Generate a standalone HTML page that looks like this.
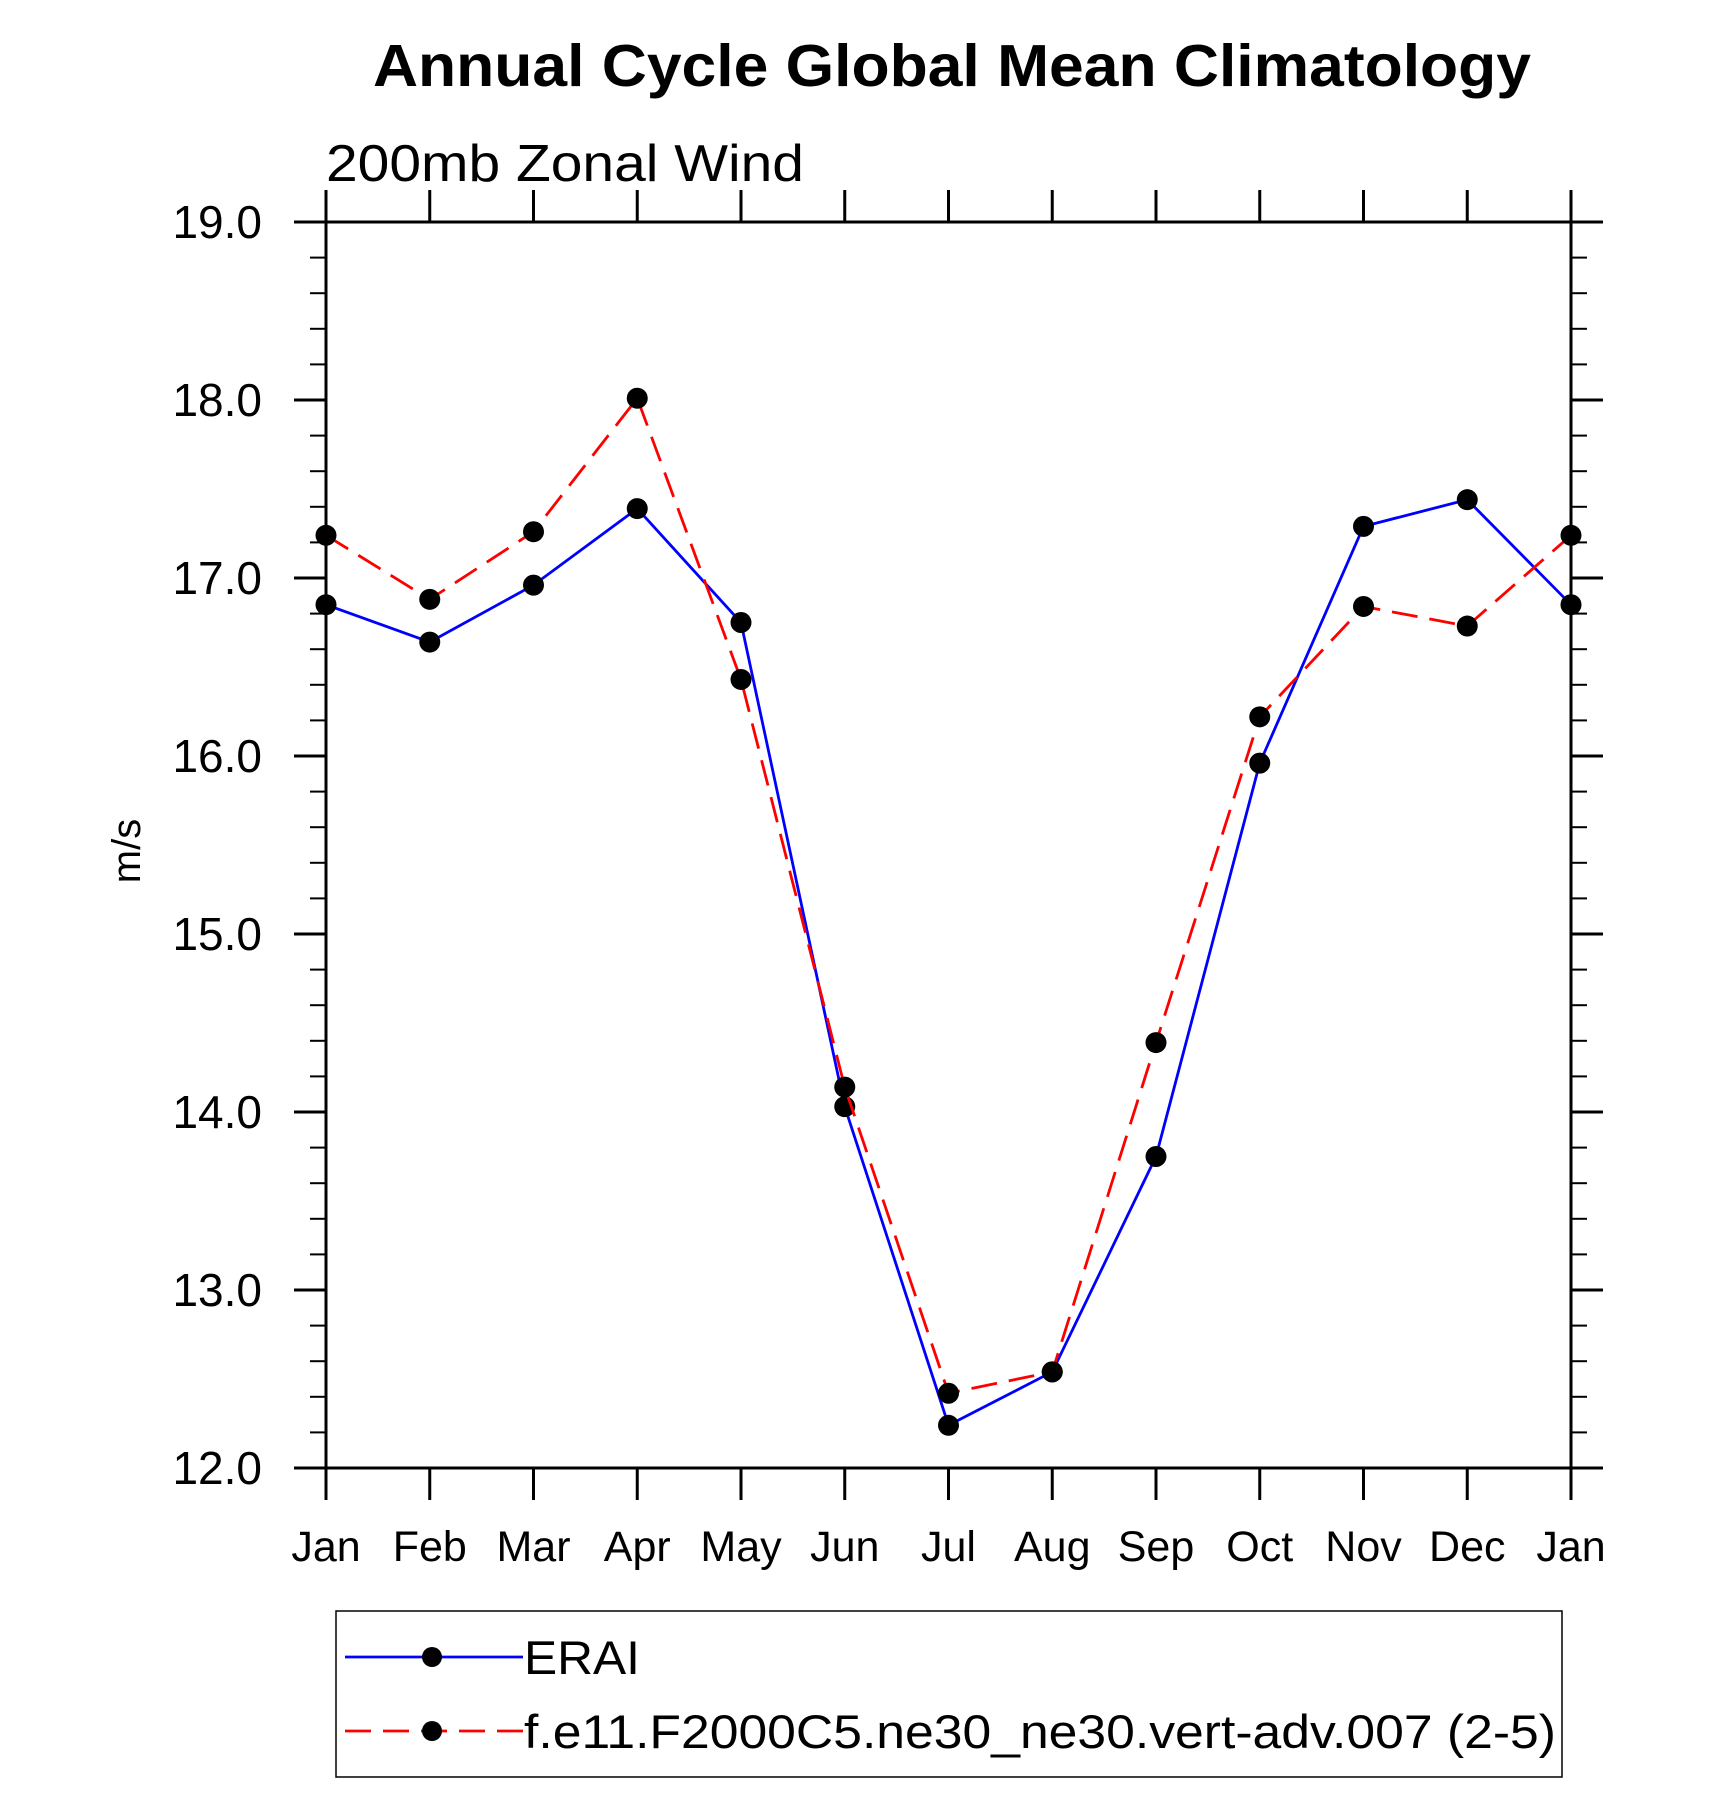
<!DOCTYPE html>
<html><head><meta charset="utf-8"><style>
html,body{margin:0;padding:0;background:#fff;}
svg{display:block;font-family:"Liberation Sans",Arial,sans-serif;}
</style></head><body>
<svg id="chart" width="1710" height="1819" viewBox="0 0 1710 1819" xmlns="http://www.w3.org/2000/svg">
<text x="952" y="86" text-anchor="middle" font-size="59" font-weight="bold" textLength="1158" lengthAdjust="spacingAndGlyphs">Annual Cycle Global Mean Climatology</text>
<text x="326" y="181" font-size="52" textLength="478" lengthAdjust="spacingAndGlyphs">200mb Zonal Wind</text>
<text transform="translate(140,851) rotate(-90)" text-anchor="middle" font-size="40">m/s</text>
<g id="axes"></g>
<g id="series"></g>
<rect x="336" y="1611" width="1226" height="166" fill="none" stroke="#000" stroke-width="1.5"/>
<g>
<line x1="345" y1="1657" x2="523" y2="1657" stroke="#0000ff" stroke-width="2.8"/>
<circle cx="432" cy="1657" r="10" fill="#000"/>
<text x="524" y="1674" font-size="47" textLength="116" lengthAdjust="spacingAndGlyphs">ERAI</text>
</g>
<g>
<line x1="345" y1="1731" x2="523" y2="1731" stroke="#ff0000" stroke-width="2.8" stroke-dasharray="26,12"/>
<circle cx="432" cy="1731" r="10" fill="#000"/>
<text x="524" y="1748" font-size="47" textLength="1032" lengthAdjust="spacingAndGlyphs">f.e11.F2000C5.ne30_ne30.vert-adv.007 (2-5)</text>
</g>
</svg>
<script>
const months = ["Jan","Feb","Mar","Apr","May","Jun","Jul","Aug","Sep","Oct","Nov","Dec","Jan"];
const yTicks = [12,13,14,15,16,17,18,19];
const yTickLabels = ["12.0","13.0","14.0","15.0","16.0","17.0","18.0","19.0"];
const eraiValues = [16.85,16.64,16.96,17.39,16.75,14.03,12.24,12.54,13.75,15.96,17.29,17.44,16.85];
const modelValues = [17.24,16.88,17.26,18.01,16.43,14.14,12.42,12.54,14.39,16.22,16.84,16.73,17.24];

const NS="http://www.w3.org/2000/svg";
const L=326,R=1571,T=222,B=1468,yMin=12,yMax=19;
function xs(i){return L+(R-L)*i/(months.length-1);}
function ys(v){return B-(B-T)*(v-yMin)/(yMax-yMin);}
function mk(tag,attrs,parent){const e=document.createElementNS(NS,tag);for(const k in attrs)e.setAttribute(k,attrs[k]);parent.appendChild(e);return e;}
const axes=document.getElementById('axes');
const series=document.getElementById('series');
const frame=mk('rect',{x:L,y:T,width:R-L,height:B-T,fill:'none',stroke:'#000','stroke-width':3},axes);


for(let v=yMin;v<=yMax+1e-9;v+=0.2){
  const y=ys(v);const major=Math.abs(v-Math.round(v))<1e-6;const len=major?32:16;
  const t1=mk('line',{x1:L-len,y1:y,x2:L,y2:y,stroke:'#000','stroke-width':major?3:2},axes);
  
  
  const t2=mk('line',{x1:R,y1:y,x2:R+len,y2:y,stroke:'#000','stroke-width':major?3:2},axes);
  
  
}
yTicks.forEach((v,i)=>{
  const t=mk('text',{x:262,y:ys(v)+16,'text-anchor':'end','font-size':46},axes);
  t.textContent=yTickLabels[i];
  
  
});
months.forEach((m,i)=>{
  const x=xs(i);
  const b=mk('line',{x1:x,y1:B,x2:x,y2:B+32,stroke:'#000','stroke-width':3},axes);
  
  
  const t=mk('line',{x1:x,y1:T-32,x2:x,y2:T,stroke:'#000','stroke-width':3},axes);
  
  
  const lb=mk('text',{x:x,y:1561,'text-anchor':'middle','font-size':43},axes);
  lb.textContent=m;
  
  
});
function drawSeries(vals,color,dash,name){
  const pts=vals.map((v,i)=>xs(i)+','+ys(v)).join(' ');
  const pl=mk('polyline',{points:pts,fill:'none',stroke:color,'stroke-width':2.8},series);
  if(dash)pl.setAttribute('stroke-dasharray',dash);
  
  
  vals.forEach((v,i)=>{
    const c=mk('circle',{cx:xs(i),cy:ys(v),r:10.5,fill:'#000'},series);
    
    
  });
}
drawSeries(eraiValues,'#0000ff',null,'erai');
drawSeries(modelValues,'#ff0000','26,12','model');
</script>
</body></html>
